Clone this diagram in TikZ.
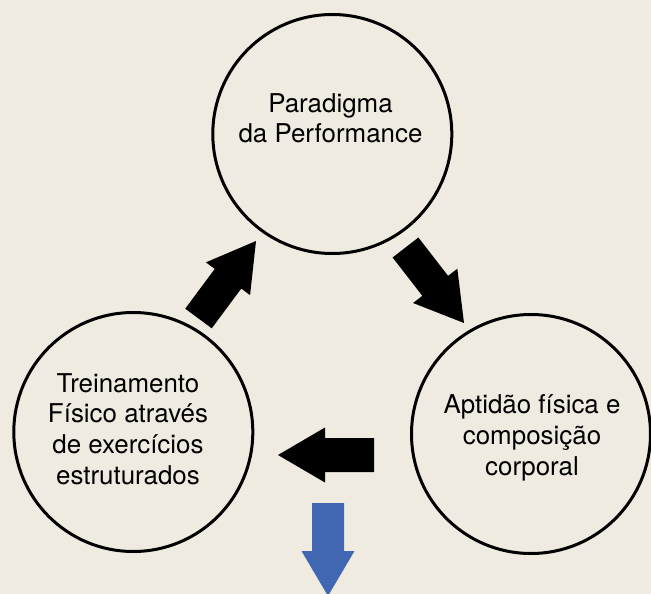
\documentclass[tikz,border=0pt]{standalone}
\usepackage{fontspec}
\setmainfont{TeX Gyre Heros}
\usetikzlibrary{calc}
\definecolor{bgc}{RGB}{239,235,225}
\definecolor{bluearr}{RGB}{66,103,178}
% #1 style, #2 tail, #3 tip, #4 half shaft width, #5 half head width, #6 head length
\newcommand{\blockarr}[6]{%
  \coordinate (ba-h) at ($(#3)!#6!(#2)$);
  \fill[#1] ($(#2)!#4!90:(#3)$) -- ($(ba-h)!#4!90:(#3)$) -- ($(ba-h)!#5!90:(#3)$) -- (#3)
    -- ($(ba-h)!#5!-90:(#3)$) -- ($(ba-h)!#4!-90:(#3)$) -- ($(#2)!#4!-90:(#3)$) -- cycle;
}
\begin{document}
\begin{tikzpicture}[x=1pt,y=-1pt,
  circ/.style={circle,draw,line width=3pt,minimum size=239pt,inner sep=0pt},
  lbl/.style={anchor=north,inner sep=0pt,align=center,font=\fontsize{25.9}{30.8}\selectfont}]
\fill[bgc] (0,0) rectangle (651,594);
\useasboundingbox (0,0) rectangle (651,594);

\node[circ] (top) at (332.3,134) {};
\node[circ] (left) at (133.3,432) {};
\node[circ] (right) at (531,434) {};

\node[lbl,font=\fontsize{25.9}{30}\selectfont] (ttop) at (330.5,93.3) {Paradigma\\da Performance};
\node[lbl] (tleft) at (128,373) {Treinamento\\Físico através\\de exercícios\\estruturados};
\node[lbl] (tright) at (532,394.6) {Aptidão física e\\composição\\corporal};

\coordinate (a1s) at (198.5,318.5); \coordinate (a1e) at (256,241);
\coordinate (a2s) at (405.5,247.5); \coordinate (a2e) at (464,323);
\coordinate (a3s) at (374,455);     \coordinate (a3e) at (278,455);
\coordinate (a4s) at (328,503);     \coordinate (a4e) at (328,596);

\blockarr{black}{a1s}{a1e}{16.5pt}{27.5pt}{47pt}
\blockarr{black}{a2s}{a2e}{16.3pt}{28pt}{47pt}
\blockarr{black}{a3s}{a3e}{17pt}{27.5pt}{47pt}
\blockarr{bluearr}{a4s}{a4e}{16pt}{26.5pt}{45pt}
\end{tikzpicture}
\end{document}
